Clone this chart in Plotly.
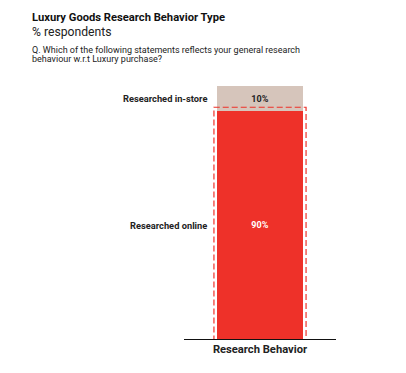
import plotly.graph_objects as go

categories = ["Research Behavior"]
series_names = ["Researched online", "Researched in-store"]
online = [90]
instore = [10]
colors = ["#EE3129", "#D6C5BB"]
label_colors = ["#FFFFFF", "#222222"]

W, H = 406, 373
OFF = 8  # page body margin
L, R, T, B = 184 - OFF, 336 - OFF, 86 - OFF, 339 - OFF

def px(x):
    return (x - OFF - L) / (R - L)

def py(y):
    return (B - (y - OFF)) / (B - T)

fig = go.Figure()
for name, vals, c, lc in zip(series_names, [online, instore], colors, label_colors):
    fig.add_trace(go.Bar(
        x=categories, y=vals, name=name, marker=dict(color=c, line=dict(width=0)),
        text=[f"{v}%" for v in vals], textposition="inside", insidetextanchor="middle",
        textfont=dict(family="Roboto", size=9, color=lc, weight="bold"),
        hoverinfo="skip",
    ))

cum = 0
for name, vals in zip(series_names, [online, instore]):
    mid = cum + vals[0] / 2
    cum += vals[0]
    fig.add_annotation(x=px(209), xref="paper", y=mid, yref="y", text=f"<b>{name}</b>",
                       showarrow=False, xanchor="right", yanchor="middle",
                       font=dict(family="Roboto", size=9.3, color="#222222"))

fig.add_shape(type="rect", xref="x", yref="y", x0=-0.303, x1=0.303, y0=-1.5, y1=online[0] + 1.6,
              line=dict(color="#EE3129", width=1.2, dash="6px,3px"), fillcolor="rgba(0,0,0,0)", layer="above")

fig.add_annotation(x=px(31), y=py(17.6), xref="paper", yref="paper", text="<b>Luxury Goods Research Behavior Type</b>",
                   showarrow=False, xanchor="left", yanchor="middle", borderpad=0,
                   font=dict(family="Roboto", size=11.2, color="#111111"))
fig.add_annotation(x=px(31), y=py(31.8), xref="paper", yref="paper", text="% respondents",
                   showarrow=False, xanchor="left", yanchor="middle", borderpad=0,
                   font=dict(family="Roboto", size=12.2, color="#222222"))
q_lines = ["Q. Which of the following statements reflects your general research",
           "behaviour w.r.t Luxury purchase?"]
for line, ypos in zip(q_lines, [50.2, 59]):
    fig.add_annotation(x=px(31), y=py(ypos), xref="paper", yref="paper", text=line,
                       showarrow=False, xanchor="left", yanchor="middle", align="left", borderpad=0,
                       font=dict(family="Roboto", size=9, color="#222222"))

fig.update_layout(
    width=W, height=H, barmode="stack", bargap=0.44, showlegend=False,
    margin=dict(l=L, r=W - R, t=T, b=H - B, pad=0),
    paper_bgcolor="white", plot_bgcolor="white",
    xaxis=dict(showline=True, linecolor="#111111", linewidth=1, showgrid=False, zeroline=False,
               tickvals=categories, ticktext=["<b>Research Behavior</b>"], ticks="",
               tickfont=dict(family="Roboto", size=11.2, color="#222222"), range=[-0.5, 0.5]),
    yaxis=dict(visible=False, range=[0, 100], showgrid=False, zeroline=False),
)

fig.write_html("out.html")
